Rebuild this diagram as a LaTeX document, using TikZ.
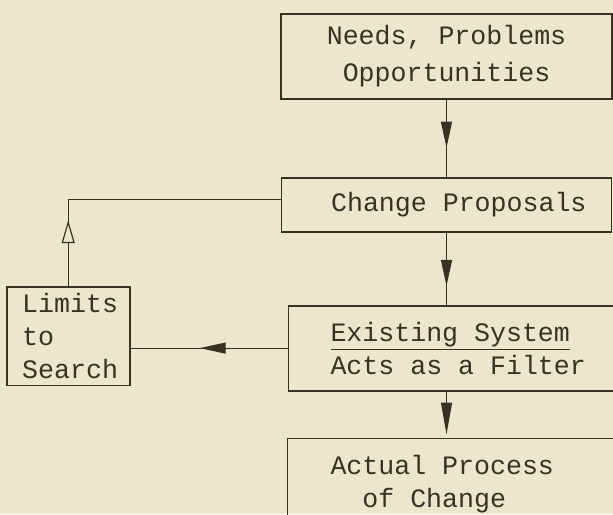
\documentclass[tikz,border=0pt]{standalone}
\usepackage{fontspec}
\setmonofont{Liberation Mono}
\usetikzlibrary{positioning, arrows.meta, decorations.markings}

\definecolor{paper}{RGB}{236,230,204}
\definecolor{ink}{RGB}{58,49,36}

% typewriter text, one full cell per space
\newcommand{\typefont}[1]{\ttfamily\fontsize{13.3}{#1}\selectfont}

\tikzset{
  box/.style={draw=ink, line width=0.9pt, text=ink, font=\typefont{16.5},
      execute at begin node={\spaceskip=7.98pt\xspaceskip=7.98pt\relax}},
  midarrow/.style={postaction={decorate}, decoration={markings,
      mark=at position #1 with {\arrow{Triangle[length=13pt,width=5.5pt]}}}},
  openarrow/.style={postaction={decorate}, decoration={markings,
      mark=at position #1 with {\arrow{Triangle[length=11.5pt,width=6.5pt,fill=paper]}}}}
}

\begin{document}
\begin{tikzpicture}[x=0.5pt, y=-0.5pt, ink, line width=0.6pt]
  \useasboundingbox (0,0) rectangle (613,514);
  \clip (0,0) rectangle (613,514);
  \fill[paper] (0,0) rectangle (613,514);

  \node[box, align=center, minimum width=165.5pt, minimum height=42.5pt,
        font=\typefont{18.5}]                                            (needs)     at (446.5,56.5) {Needs, Problems\\Opportunities};
  \node[box, below=38.5pt of needs, align=right, text width=140pt,
        inner xsep=12.5pt, minimum height=27pt]                          (proposals) {Change Proposals};
  \node[box, below right=36pt and 3.5pt of proposals.south west, align=left,
        text width=130pt, inner xsep=21pt, minimum height=42.5pt]        (filter)    {\underline{Existing System}\\Acts as a Filter};
  \node[box, below right=23pt and -0.5pt of filter.south west, align=left,
        text width=130pt, inner xsep=21.5pt, minimum height=46pt]        (process)   {Actual Process\\\hphantom{A} of Change};
  \node[box, left=78.5pt of filter, yshift=6pt, align=left, text width=46pt,
        inner xsep=7.75pt, minimum height=46.5pt]                        (limits)    {Limits\\to\\Search};

  \draw[midarrow=0.62] (needs.south)     -- (proposals.north);
  \draw[midarrow=0.74] (proposals.south) -- (proposals.south |- filter.north);
  \draw[-{Triangle[length=16pt,width=5.5pt]}, shorten >=1.5pt]
                       (filter.south -| proposals.south) -- (process.north -| proposals.south);
  \draw[midarrow=0.56] (filter.west)     -- (filter.west -| limits.east);
  \draw[openarrow=0.22] (limits.north)   |- ([yshift=2.5pt]proposals.west);
\end{tikzpicture}
\end{document}
